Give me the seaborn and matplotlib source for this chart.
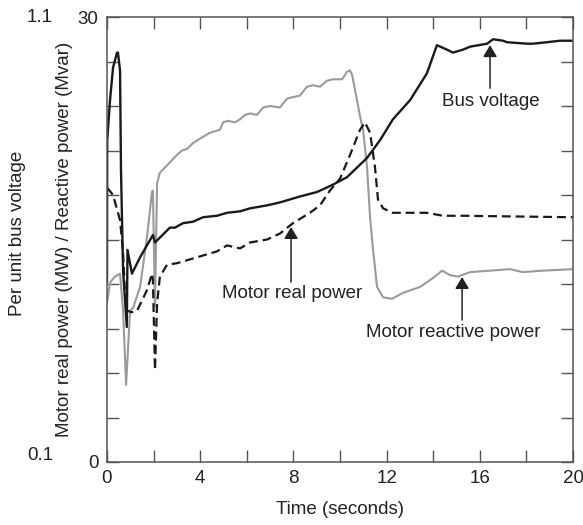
"""
Motor start transient: bus voltage and motor real / reactive power vs time
"""

import matplotlib
matplotlib.use("Agg")
import matplotlib.pyplot as plt
import seaborn as sns

# --- data --------------------------------------------------------------
bus_t = [0.00, 0.01, 0.13, 0.26, 0.43, 0.47, 0.56, 0.60, 0.69, 0.85, 0.88,
         1.07, 1.42, 1.97, 2.06, 2.70, 2.92, 3.26, 3.69, 4.12, 4.72, 5.15,
         5.71, 6.14, 6.87, 7.42, 8.28, 9.01, 9.70, 10.30, 11.16, 11.72,
         12.27, 13.01, 13.73, 14.16, 14.59, 14.85, 15.28, 15.58, 16.31,
         16.57, 17.00, 17.17, 18.03, 18.28, 18.88, 19.44, 20.00]
bus_v = [12.1, 21.7, 24.4, 26.6, 27.6, 27.6, 26.4, 19.7, 12.9, 9.1, 14.3,
         12.7, 13.8, 15.3, 14.8, 15.8, 15.8, 16.1, 16.2, 16.5, 16.6, 16.8,
         16.9, 17.1, 17.3, 17.5, 17.9, 18.2, 18.7, 19.2, 20.5, 21.7,
         23.1, 24.4, 26.2, 28.1, 27.8, 27.6, 27.8, 28.0, 28.2,
         28.5, 28.4, 28.3, 28.2, 28.2, 28.3, 28.4, 28.4]

real_t = [0.00, 0.26, 0.56, 0.69, 0.77, 0.86, 1.07, 1.29, 1.72, 1.93, 1.97,
          2.06, 2.15, 2.27, 2.58, 3.00, 3.86, 4.72, 5.15, 5.71, 6.14, 6.87,
          7.42, 7.98, 8.71, 9.14, 9.57, 10.00, 10.43, 10.86, 11.07, 11.29,
          11.50, 11.63, 11.85, 12.27, 13.13, 13.73, 14.42, 15.28, 20.00]
real_p = [18.5, 18.0, 16.3, 14.1, 11.4, 10.2, 10.1, 10.2, 11.6, 12.7, 12.3,
          6.2, 10.7, 12.5, 13.3, 13.4, 13.8, 14.2, 14.6, 14.4, 14.8, 15.0,
          15.4, 16.1, 16.8, 17.3, 18.3, 19.1, 20.7, 22.4, 22.9, 22.2,
          19.9, 17.7, 17.1, 16.8, 16.8, 16.8, 16.6, 16.6, 16.5]

reac_t = [0.00, 0.13, 0.34, 0.56, 0.69, 0.82, 0.99, 1.12, 1.42, 1.72, 1.93,
          1.97, 2.06, 2.15, 2.27, 2.58, 2.70, 3.00, 3.22, 3.43, 3.69, 3.99,
          4.42, 4.85, 4.98, 5.19, 5.49, 5.71, 5.92, 6.14, 6.44, 6.70, 7.00,
          7.42, 7.73, 7.98, 8.28, 8.58, 8.84, 9.14, 9.44, 9.70, 10.09,
          10.30, 10.43, 10.52, 10.73, 10.86, 10.99, 11.16, 11.29, 11.42,
          11.59, 11.85, 12.23, 12.70, 13.43, 13.99, 14.38, 14.72, 15.06,
          15.58, 16.44, 17.30, 17.85, 18.71, 20.00]
reac_q = [10.7, 12.1, 12.5, 12.7, 10.2, 5.2, 10.2, 10.4, 11.8, 15.2, 18.2,
          18.3, 10.5, 18.8, 19.5, 20.0, 20.2, 20.7, 21.0, 21.1, 21.5, 21.8,
          22.2, 22.4, 22.9, 23.0, 22.9, 23.1, 23.4, 23.5, 23.4, 23.9, 24.0,
          23.9, 24.5, 24.6, 24.7, 25.3, 25.4, 25.3, 25.7, 25.8, 25.8,
          26.3, 26.4, 26.1, 24.4, 23.3, 22.4, 19.9, 16.5, 14.3,
          11.8, 11.1, 11.0, 11.4, 11.8, 12.4, 12.9, 12.6, 12.5,
          12.8, 12.9, 13.0, 12.8, 12.9, 13.0]

x_ticks = list(range(0, 21, 2))
x_tick_labels = [str(v) if v % 4 == 0 else "" for v in x_ticks]
y_ticks = list(range(0, 31, 3))
y_tick_labels = ["0"] + [""] * 9 + ["30"]
volt_labels = ["1.1", "0.1"]

BLACK = "#1a1a1a"
GRAY = "#9a9a9a"
AXIS = "#555555"

sns.set_theme(style="ticks")
plt.rcParams["font.family"] = ["Liberation Sans", "DejaVu Sans"]
FS = 13.5

fig = plt.figure(figsize=(5.83, 5.25), dpi=100)
ax = fig.add_axes([107 / 583, 63 / 525, 466 / 583, 445 / 525])

sns.lineplot(x=reac_t, y=reac_q, ax=ax, color=GRAY, lw=1.5,
             estimator=None, sort=False)
sns.lineplot(x=real_t, y=real_p, ax=ax, color=BLACK, lw=1.6,
             estimator=None, sort=False, dashes=False)
ax.lines[-1].set_dashes((4, 2.2))
sns.lineplot(x=bus_t, y=bus_v, ax=ax, color=BLACK, lw=1.7,
             estimator=None, sort=False)

ax.set_xlim(0, 20)
ax.set_ylim(0, 30)
ax.set_xticks(x_ticks)
ax.set_xticklabels(x_tick_labels, fontsize=FS)
ax.set_yticks(y_ticks)
ax.set_yticklabels(y_tick_labels, fontsize=FS)
ax.tick_params(direction="in", length=8.5, width=1.0, color=AXIS,
               top=True, right=True, pad=6, labelcolor="#222222")
for sp in ax.spines.values():
    sp.set_visible(True)
    sp.set_color(AXIS)
    sp.set_linewidth(1.1)

ax.set_xlabel("Time (seconds)", fontsize=FS, color="#222222")
ax.xaxis.set_label_coords(0.5, -0.087)
ax.set_ylabel("Motor real power (MW) / Reactive power (Mvar)",
              fontsize=FS, color="#222222")
ax.yaxis.set_label_coords(-0.072, 0.5)

# secondary voltage scale written outside the frame
fig.text(18 / 583, 1 - 233 / 525, "Per unit bus voltage", rotation=90,
         ha="center", va="center", fontsize=FS, color="#222222")
fig.text(53 / 583, 1 - 17 / 525, volt_labels[0], ha="right", va="center",
         fontsize=FS, color="#222222")
fig.text(53 / 583, 1 - 456 / 525, volt_labels[1], ha="right", va="center",
         fontsize=FS, color="#222222")

arrow = dict(arrowstyle="-|>,head_width=0.42,head_length=0.7",
             color="#222222", lw=1.1, shrinkA=0, shrinkB=0,
             mutation_scale=10)
notes = [
    ("Bus voltage", (16.44, 28.1), (16.44, 25.2), (16.48, 24.27)),
    ("Motor real power", (7.90, 15.84), (7.90, 12.13), (7.94, 11.39)),
    ("Motor reactive power", (15.24, 12.47), (15.24, 9.57), (14.85, 8.70)),
]
for label, tip, tail, pos in notes:
    ax.annotate("", xy=tip, xytext=tail, arrowprops=arrow)
    ax.text(pos[0], pos[1], label, ha="center", va="center",
            fontsize=FS, color="#222222")

fig.savefig("out.png", dpi=100)
